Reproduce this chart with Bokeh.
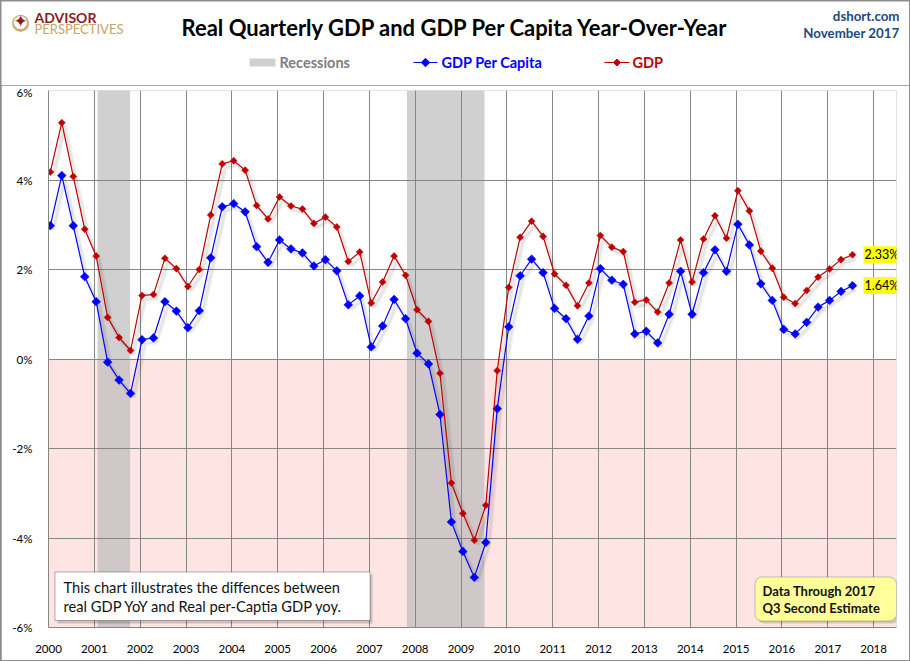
import math
from bokeh.plotting import figure
from bokeh.layouts import column
from bokeh.models import (BoxAnnotation, Label, FixedTicker,
                          PrintfTickFormatter, ColumnDataSource, Range1d)
from bokeh.transform import dodge
from bokeh.embed import file_html
from bokeh.resources import INLINE

# ---------------- data ----------------
years = list(range(2000, 2018))
quarters = [f"{y}Q{q}" for y in years for q in (1, 2, 3, 4)][:71]

gdp = [4.18, 5.28, 4.08, 2.90,
       2.30, 0.93, 0.48, 0.19,
       1.42, 1.44, 2.25, 2.02,
       1.62, 2.00, 3.22, 4.36,
       4.43, 4.22, 3.43, 3.13,
       3.62, 3.42, 3.35, 3.03,
       3.17, 2.95, 2.18, 2.39,
       1.25, 1.72, 2.30, 1.87,
       1.10, 0.84, -0.32, -2.77,
       -3.45, -4.05, -3.27, -0.26,
       1.60, 2.72, 3.08, 2.74,
       1.90, 1.65, 1.19, 1.70,
       2.76, 2.50, 2.40, 1.27,
       1.32, 1.05, 1.70, 2.66,
       1.72, 2.68, 3.20, 2.70,
       3.76, 3.31, 2.41, 2.03,
       1.38, 1.24, 1.53, 1.83,
       2.01, 2.22, 2.33]

gdp_pc = [2.98, 4.10, 2.98, 1.84,
          1.28, -0.07, -0.47, -0.77,
          0.43, 0.47, 1.28, 1.07,
          0.70, 1.08, 2.26, 3.40,
          3.47, 3.29, 2.51, 2.16,
          2.66, 2.46, 2.37, 2.08,
          2.22, 1.97, 1.21, 1.41,
          0.27, 0.74, 1.33, 0.90,
          0.13, -0.11, -1.24, -3.64,
          -4.30, -4.88, -4.10, -1.11,
          0.72, 1.86, 2.23, 1.93,
          1.13, 0.90, 0.44, 0.96,
          2.02, 1.76, 1.67, 0.56,
          0.62, 0.36, 1.00, 1.96,
          1.00, 1.93, 2.44, 1.96,
          3.01, 2.55, 1.68, 1.31,
          0.66, 0.56, 0.82, 1.16,
          1.31, 1.51, 1.64]

rec_start = [2001.07, 2007.82]
rec_end = [2001.78, 2009.51]

x_ticks = list(range(2000, 2019))
y_ticks = [-6, -4, -2, 0, 2, 4, 6]

title_text = "Real Quarterly GDP and GDP Per Capita Year-Over-Year"
legend_labels = ["Recessions", "GDP Per Capita", "GDP"]
note_lines = ["This chart illustrates the diffences between",
              "real GDP YoY and Real per-Captia GDP yoy."]
through_lines = ["Data Through 2017", " Q3 Second Estimate"]

# decimal-year position of each quarter
qx = [int(s[:4]) + (int(s[5]) - 1) * 0.25 + 0.04 for s in quarters]

# ---------------- layout ----------------
W, H = 910, 661
B = 1                                # outer grey border (css padding)
HH = 84                              # header canvas height
FL, FT, FW, FH = 48, 90, 848, 537   # main frame in page pixels
XMIN, XMAX, YMIN, YMAX = 2000, 2018.5, -6, 6

def X(px):
    return XMIN + (px - FL) * (XMAX - XMIN) / FW

def Y(py):
    return YMAX - (py - FT) * (YMAX - YMIN) / FH

FONT = "Lato"
GRID = "#868686"
BORDER = "#8C8C8C"
REC_COLOR, REC_ALPHA = "#BBBBBB", 0.69
BLUE, RED = "#0000FF", "#C00000"

# ---------------- header figure (page-pixel coordinates) ----------------
hdr = figure(width=W - 2 * B, height=HH, x_range=Range1d(B, W - B), y_range=Range1d(B + HH, B),
             output_backend="svg", toolbar_location=None, x_axis_type=None, y_axis_type=None,
             min_border=0)
hdr.frame_align = False
hdr.outline_line_color = None
hdr.xgrid.visible = False
hdr.ygrid.visible = False
hdr.background_fill_color = "white"
hdr.border_fill_color = "white"

def htxt(t, px, py, size, color="#000000", style="normal", align="left", font=FONT):
    hdr.add_layout(Label(x=px, y=py, text=t, text_align=align, text_baseline="middle",
                         text_font=font, text_font_size=size, text_font_style=style,
                         text_color=color))

htxt(title_text, 455, 27, "22px", style="bold", align="center")
htxt("dshort.com", 899, 15, "13.3px", color="#1F497D", style="bold", align="right")
htxt("November 2017", 899, 32, "13.3px", color="#1F497D", style="bold", align="right")

# logo
htxt("\u25CF", 20, 20.5, "22px", color="#C9A96E", align="center", font="DejaVu Sans")
htxt("\u25CF", 20, 20.5, "17px", color="#FFFFFF", align="center", font="DejaVu Sans")
htxt("\u2726", 20, 20.5, "17px", color="#8B1C24", align="center", font="DejaVu Sans")
htxt("ADVISOR", 34, 17, "14px", color="#8B1C24", style="bold")
htxt("PERSPECTIVES", 34, 28.5, "13px", color="#C4A56A")

# legend (drawn by hand: each entry has its own text colour)
LY = 62
hdr.quad(left=[249], right=[275], top=[LY - 4], bottom=[LY + 4],
         fill_color=REC_COLOR, fill_alpha=REC_ALPHA, line_color=None)
htxt(legend_labels[0], 279, LY, "14.5px", color="#808080", style="bold")
hdr.line(x=[413, 437], y=[LY, LY], line_color=BLUE, line_width=1.2)
hdr.scatter(x=[425], y=[LY], marker="square", angle=math.pi / 4, size=6,
            fill_color=BLUE, line_color=BLUE)
htxt(legend_labels[1], 441, LY, "14.5px", color=BLUE, style="bold")
hdr.line(x=[604, 629], y=[LY, LY], line_color=RED, line_width=1.2)
hdr.scatter(x=[616.5], y=[LY], marker="square", angle=math.pi / 4, size=5,
            fill_color=RED, line_color=RED)
htxt(legend_labels[2], 632, LY, "14.5px", color=RED, style="bold")

# ---------------- main figure ----------------
MW, MH = W - 2 * B, H - 2 * B - HH
mtop = FT - B - HH
p = figure(width=MW, height=MH, x_range=Range1d(XMIN, XMAX), y_range=Range1d(YMIN, YMAX),
           output_backend="svg", toolbar_location=None,
           min_border_left=FL - B, min_border_right=MW - (FL - B) - FW,
           min_border_top=mtop, min_border_bottom=MH - mtop - FH)
p.frame_align = False
p.outline_line_color = None
p.background_fill_color = "white"
p.border_fill_color = "white"

p.xaxis.ticker = FixedTicker(ticks=x_ticks)
p.yaxis.ticker = FixedTicker(ticks=y_ticks)
p.yaxis.formatter = PrintfTickFormatter(format="%d%%")
for ax in (p.xaxis[0], p.yaxis[0]):
    ax.axis_line_color = GRID
    ax.major_tick_line_color = None
    ax.minor_tick_line_color = None
    ax.major_label_text_font = FONT
    ax.major_label_text_font_size = "11.5px"
    ax.major_label_text_color = "#000000"
p.xaxis.major_label_standoff = 11
p.yaxis.major_label_standoff = 10
for g in (p.xgrid[0], p.ygrid[0]):
    g.grid_line_color = GRID
    g.grid_line_width = 1
    g.grid_line_alpha = 1
p.xgrid.ticker = FixedTicker(ticks=x_ticks)
p.ygrid.ticker = FixedTicker(ticks=y_ticks)

# negative zone & recessions (beneath grid)
p.add_layout(BoxAnnotation(top=0, fill_color="#FFE4E4", fill_alpha=1, line_color=None, level="image"))
for s, e in zip(rec_start, rec_end):
    p.add_layout(BoxAnnotation(left=s, right=e, fill_color=REC_COLOR, fill_alpha=REC_ALPHA,
                               line_color=None, level="image"))

# series
src = ColumnDataSource(dict(x=qx, gdp=gdp, pc=gdp_pc))
dx = dodge("x", 3 * (XMAX - XMIN) / FW, range=p.x_range)
for col in ("pc", "gdp"):
    dy = dodge(col, -4 * (YMAX - YMIN) / FH, range=p.y_range)
    p.line(x=dx, y=dy, source=src, line_color="#000000", line_alpha=0.05, line_width=5)
    p.line(x=dx, y=dy, source=src, line_color="#000000", line_alpha=0.05, line_width=2.5)

p.line("x", "pc", source=src, line_color=BLUE, line_width=1.2)
p.scatter("x", "pc", source=src, marker="square", angle=math.pi / 4, size=6.2,
          fill_color=BLUE, line_color=BLUE, line_width=0.5)
p.line("x", "gdp", source=src, line_color=RED, line_width=1.2)
p.scatter("x", "gdp", source=src, marker="square", angle=math.pi / 4, size=5.0,
          fill_color=RED, line_color=RED, line_width=0.5)

# last-value callouts
for vals in (gdp, gdp_pc):
    p.add_layout(Label(x=qx[-1], y=vals[-1], x_offset=11, text=f"{vals[-1]:.2f}%",
                       text_baseline="middle", text_align="left",
                       text_font=FONT, text_font_size="12.5px", text_color="#000000",
                       background_fill_color="#FFFF00", background_fill_alpha=0.95,
                       padding=1))

def txt(t, px, py, size, color="#000000", style="normal", align="left", font=FONT):
    p.add_layout(Label(x=X(px), y=Y(py), text=t, text_align=align, text_baseline="middle",
                       text_font=font, text_font_size=size, text_font_style=style,
                       text_color=color))

# bottom-left note box
p.add_layout(BoxAnnotation(left=X(57), right=X(372), top=Y(574), bottom=Y(623),
                           fill_color="#000000", fill_alpha=0.18, line_color=None))
p.add_layout(BoxAnnotation(left=X(54.5), right=X(369.5), top=Y(571.5), bottom=Y(620),
                           fill_color="#FFFFFF", fill_alpha=1, line_color="#000000",
                           line_width=1))
txt(note_lines[0], 63, 586, "14.7px", color="#111111")
txt(note_lines[1], 63, 605.5, "14.7px", color="#111111")

# bottom-right "data through" box
p.add_layout(BoxAnnotation(left=X(757), right=X(899), top=Y(579), bottom=Y(623),
                           fill_color="#000000", fill_alpha=0.15, line_color=None,
                           border_radius=7))
p.add_layout(BoxAnnotation(left=X(754.5), right=X(896), top=Y(576.5), bottom=Y(620.5),
                           fill_color="#FFFF99", fill_alpha=1, line_color="#404040",
                           line_width=1, border_radius=7))
txt(through_lines[0], 762, 590, "13px", color="#111111", style="bold")
txt(through_lines[1], 762, 607.5, "13px", color="#111111", style="bold")

layout = column(hdr, p, spacing=0,
                styles={"padding": f"{B}px", "background-color": BORDER})

open("out.html", "w").write(file_html(layout, INLINE))
